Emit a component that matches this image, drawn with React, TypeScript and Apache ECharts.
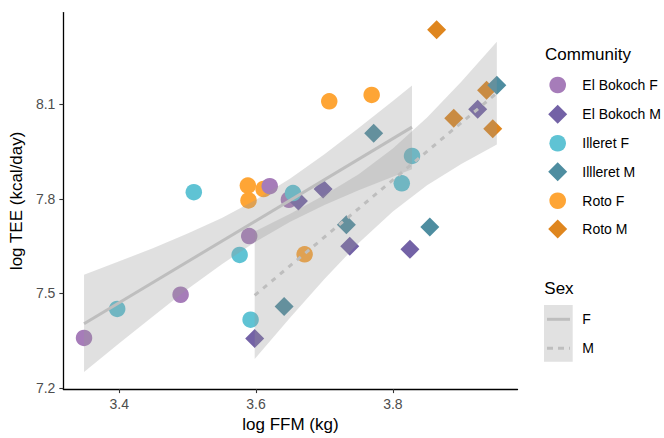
import React, { useEffect, useRef } from "react";
import * as echarts from "echarts";

// ---- data ----
const elBokochF_x = [3.3485, 3.4897, 3.59, 3.62, 3.648];
const elBokochF_y = [7.359, 7.496, 7.682, 7.84, 7.797];
const elBokochM_x = [3.598, 3.662, 3.698, 3.737, 3.825, 3.924];
const elBokochM_y = [7.357, 7.793, 7.831, 7.65, 7.64, 8.084];
const illeretF_x = [3.397, 3.509, 3.576, 3.592, 3.654, 3.813, 3.828];
const illeretF_y = [7.451, 7.821, 7.622, 7.417, 7.818, 7.849, 7.936];
const illleretM_x = [3.641, 3.732, 3.772, 3.854, 3.952];
const illleretM_y = [7.459, 7.718, 8.008, 7.711, 8.16];
const rotoF_x = [3.588, 3.589, 3.611, 3.671, 3.707, 3.769];
const rotoF_y = [7.842, 7.795, 7.831, 7.624, 8.109, 8.129];
const rotoM_x = [3.864, 3.889, 3.937, 3.946];
const rotoM_y = [8.336, 8.055, 8.144, 8.022];

// fitted lines (linear smooth) per sex
const fLineX = [3.3485, 3.828];
const fLineY = [7.404, 8.027];
const mLineX = [3.598, 3.952];
const mLineY = [7.494, 8.135];

// confidence bands per sex
const fBandX = [3.3485, 3.4, 3.45, 3.5, 3.55, 3.6, 3.65, 3.7, 3.75, 3.8, 3.828];
const fBandLo = [7.251, 7.342, 7.429, 7.514, 7.593, 7.665, 7.727, 7.78, 7.827, 7.87, 7.894];
const fBandHi = [7.559, 7.602, 7.644, 7.69, 7.739, 7.797, 7.864, 7.941, 8.024, 8.11, 8.159];
const mBandX = [3.598, 3.65, 3.7, 3.75, 3.8, 3.85, 3.9, 3.952];
const mBandLo = [7.292, 7.424, 7.546, 7.66, 7.76, 7.843, 7.91, 7.972];
const mBandHi = [7.696, 7.753, 7.812, 7.878, 7.959, 8.058, 8.171, 8.298];

const xTicks = [3.4, 3.6, 3.8];
const yTicks = [7.2, 7.5, 7.8, 8.1];

const communities = ["El Bokoch F", "El Bokoch M", "Illeret F", "Illleret M", "Roto F", "Roto M"];
const colors = ["#A67CB9", "#7362A6", "#5FC3D4", "#4E8DA0", "#FEA535", "#DF861E"];
const shapes = ["circle", "diamond", "circle", "diamond", "circle", "diamond"];

const FONT = '"Liberation Sans", Arial, sans-serif';
const BAND = "rgba(153,153,153,0.3)";
const LINE = "#BEBEBE";

const zip = (xs: number[], ys: number[]) => xs.map((x, i) => [x, ys[i]]);

export default function App() {
  const ref = useRef<HTMLDivElement>(null);
  useEffect(() => {
    const chart = echarts.init(ref.current!, null, { renderer: "svg" });

    const pointSets: Record<string, number[][]> = {
      "El Bokoch F": zip(elBokochF_x, elBokochF_y),
      "El Bokoch M": zip(elBokochM_x, elBokochM_y),
      "Illeret F": zip(illeretF_x, illeretF_y),
      "Illleret M": zip(illleretM_x, illleretM_y),
      "Roto F": zip(rotoF_x, rotoF_y),
      "Roto M": zip(rotoM_x, rotoM_y),
    };
    const drawOrder = ["Roto F", "Roto M", "El Bokoch F", "El Bokoch M", "Illeret F", "Illleret M"];

    const scatterSeries = drawOrder.map((name) => {
      const i = communities.indexOf(name);
      return {
        type: "scatter",
        name,
        data: pointSets[name],
        symbol: shapes[i],
        symbolSize: shapes[i] === "circle" ? 16.5 : 19,
        itemStyle: { color: colors[i], opacity: 1 },
        z: 2,
      };
    });

    const bandSeries = (bx: number[], lo: number[], hi: number[]) => ({
      type: "custom",
      data: [[bx[0], lo[0]]],
      silent: true,
      z: 3,
      renderItem: (_p: any, api: any) => {
        const pts: number[][] = [];
        for (let i = 0; i < bx.length; i++) pts.push(api.coord([bx[i], hi[i]]));
        for (let i = bx.length - 1; i >= 0; i--) pts.push(api.coord([bx[i], lo[i]]));
        return { type: "polygon", shape: { points: pts }, style: { fill: BAND } };
      },
    });

    const lineSeries = (xs: number[], ys: number[], dashed: boolean) => ({
      type: "line",
      data: zip(xs, ys),
      symbol: "none",
      silent: true,
      z: 4,
      lineStyle: { color: LINE, width: 3, type: dashed ? [5, 6] : "solid", cap: "butt" },
    });

    const legendX = 557.7;
    const legendTextX = 582.3;
    const legendY = [85, 114.3, 143.3, 171.7, 200.7, 229];
    const graphics: any[] = [
      {
        type: "text",
        x: 545,
        y: 54,
        style: { text: "Community", fill: "#000", font: `17px ${FONT}`, verticalAlign: "middle", align: "left" },
      },
    ];
    communities.forEach((name, i) => {
      const cy = legendY[i];
      if (shapes[i] === "circle") {
        graphics.push({ type: "circle", shape: { cx: legendX, cy, r: 8.3 }, style: { fill: colors[i] } });
      } else {
        const h = 9.5;
        graphics.push({
          type: "polygon",
          shape: { points: [[legendX, cy - h], [legendX + h, cy], [legendX, cy + h], [legendX - h, cy]] },
          style: { fill: colors[i] },
        });
      }
      graphics.push({
        type: "text",
        x: legendTextX,
        y: cy,
        style: { text: name, fill: "#000", font: `14px ${FONT}`, verticalAlign: "middle", align: "left" },
      });
    });
    graphics.push(
      {
        type: "text",
        x: 544.3,
        y: 288.3,
        style: { text: "Sex", fill: "#000", font: `17px ${FONT}`, verticalAlign: "middle", align: "left" },
      },
      { type: "rect", shape: { x: 544, y: 305, width: 28.7, height: 56.7 }, style: { fill: "#E1E1E1" } },
      { type: "line", shape: { x1: 547, y1: 319.3, x2: 570, y2: 319.3 }, style: { stroke: LINE, lineWidth: 3 } },
      {
        type: "line",
        shape: { x1: 547, y1: 348.3, x2: 570, y2: 348.3 },
        style: { stroke: LINE, lineWidth: 3, lineDash: [6, 5] },
      },
      {
        type: "text",
        x: legendTextX,
        y: 319.3,
        style: { text: "F", fill: "#000", font: `14px ${FONT}`, verticalAlign: "middle", align: "left" },
      },
      {
        type: "text",
        x: legendTextX,
        y: 348.3,
        style: { text: "M", fill: "#000", font: `14px ${FONT}`, verticalAlign: "middle", align: "left" },
      }
    );

    const axisCommon = {
      type: "value",
      nameLocation: "middle",
      nameTextStyle: { color: "#000", fontSize: 17, fontFamily: FONT },
      axisLine: { show: true, onZero: false, lineStyle: { color: "#000", width: 1.3 } },
      splitLine: { show: false },
    };

    const option: any = {
      animation: false,
      backgroundColor: "#fff",
      grid: { left: 60.7, right: 146.5, top: 12.6, bottom: 45.3, containLabel: false },
      xAxis: {
        ...axisCommon,
        min: 3.3183,
        max: 3.9822,
        name: "log FFM (kg)",
        nameGap: 26,
        axisTick: { show: true, length: 4, customValues: xTicks, lineStyle: { color: "#333", width: 1.1 } },
        axisLabel: {
          customValues: xTicks,
          color: "#4D4D4D",
          fontSize: 14,
          fontFamily: FONT,
          margin: 8,
          formatter: (v: number) => v.toFixed(1),
        },
      },
      yAxis: {
        ...axisCommon,
        min: 7.197,
        max: 8.39,
        name: "log TEE (kcal/day)",
        nameGap: 34,
        axisTick: { show: true, length: 4, customValues: yTicks, lineStyle: { color: "#333", width: 1.1 } },
        axisLabel: {
          customValues: yTicks,
          color: "#4D4D4D",
          fontSize: 14,
          fontFamily: FONT,
          margin: 8,
          formatter: (v: number) => v.toFixed(1),
        },
      },
      series: [
        ...scatterSeries,
        bandSeries(fBandX, fBandLo, fBandHi),
        bandSeries(mBandX, mBandLo, mBandHi),
        lineSeries(fLineX, fLineY, false),
        lineSeries(mLineX, mLineY, true),
      ],
      graphic: graphics,
    };
    chart.setOption(option);
    return () => chart.dispose();
  }, []);
  return <div ref={ref} style={{ position: "fixed", left: 0, top: 0, width: 664, height: 438 }} />;
}
